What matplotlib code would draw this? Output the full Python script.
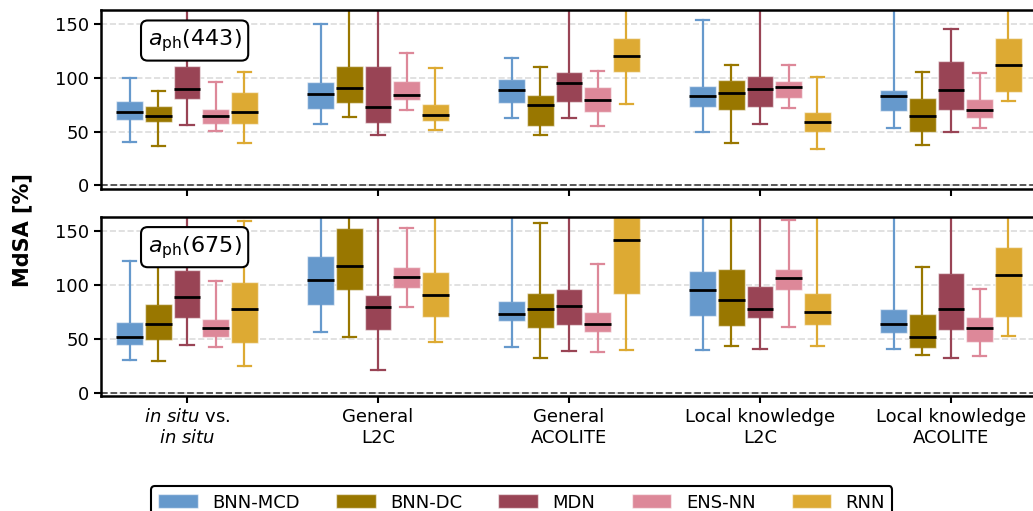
import numpy as np
import matplotlib.pyplot as plt
from matplotlib.patches import Patch

models = ["BNN-MCD", "BNN-DC", "MDN", "ENS-NN", "RNN"]
colors = ["#6699CC", "#997700", "#994455", "#DD8899", "#DDAA33"]
groups = [r"$\mathit{in\ situ}$ vs." + "\n" + r"$\mathit{in\ situ}$",
          "General\nL2C", "General\nACOLITE",
          "Local knowledge\nL2C", "Local knowledge\nACOLITE"]

# rows = models, columns = groups ; values in % (whiskers above the axis are clipped)
med_443 = [[68.7, 85.0, 89.0, 83.4, 83.4],
           [64.8, 90.5, 75.0, 86.2, 64.8],
           [89.9, 73.2, 95.5, 89.9, 89.0],
           [64.8, 84.0, 79.7, 91.7, 70.4],
           [68.5, 65.7, 120.5, 59.2, 112.2]]
q1_443 = [[60.7, 70.7, 76.3, 72.9, 69.5],
          [59.0, 76.9, 55.5, 69.8, 49.4],
          [80.0, 58.3, 77.5, 72.9, 70.4],
          [57.1, 79.4, 68.2, 81.2, 63.0],
          [57.1, 60.2, 105.1, 49.4, 87.1]]
q3_443 = [[78.5, 95.8, 98.6, 92.7, 88.7],
          [74.1, 111.2, 84.3, 98.0, 81.0],
          [111.2, 110.7, 105.7, 101.9, 115.9],
          [71.0, 97.3, 91.5, 97.0, 80.6],
          [86.8, 76.0, 136.7, 68.0, 137.6]]
lo_443 = [[40.6, 57.1, 63.0, 50.0, 53.7],
          [37.0, 63.6, 47.2, 39.7, 37.9],
          [56.2, 46.6, 63.0, 57.4, 49.7],
          [50.9, 70.4, 55.2, 72.0, 53.7],
          [39.5, 51.5, 76.0, 33.9, 78.7]]
hi_443 = [[99.5, 150.0, 118.7, 153.7, 180.0],
          [88.0, 180.0, 110.3, 112.2, 105.7],
          [180.0, 180.0, 180.0, 180.0, 145.6],
          [96.4, 123.3, 106.6, 112.2, 104.7],
          [105.1, 109.4, 180.0, 100.7, 180.0]]

med_675 = [[52.0, 104.0, 73.0, 94.7, 64.0],
           [63.7, 117.6, 78.0, 86.3, 52.0],
           [88.8, 79.8, 80.4, 78.0, 78.0],
           [60.3, 107.4, 64.0, 105.8, 60.3],
           [77.7, 90.7, 141.1, 75.2, 108.6]]
q1_675 = [[44.2, 80.8, 66.2, 70.9, 55.1],
          [48.9, 95.0, 60.0, 61.6, 41.8],
          [69.0, 57.9, 62.5, 69.0, 57.9],
          [52.0, 97.2, 56.0, 95.0, 46.7],
          [46.1, 69.9, 91.6, 63.1, 69.9]]
q3_675 = [[65.3, 126.2, 84.8, 112.6, 78.0],
          [82.0, 152.5, 92.8, 114.2, 73.3],
          [113.2, 90.7, 95.6, 98.4, 110.5],
          [68.4, 116.3, 74.6, 114.2, 70.5],
          [102.7, 111.4, 175.0, 92.5, 135.2]]
lo_675 = [[30.3, 56.3, 42.7, 39.9, 40.8],
          [29.4, 52.0, 32.5, 43.6, 35.3],
          [44.2, 21.0, 39.0, 40.8, 32.5],
          [42.7, 79.8, 38.0, 61.0, 34.3],
          [24.8, 47.3, 39.9, 43.6, 52.9]]
hi_675 = [[122.2, 180.0, 180.0, 180.0, 180.0],
          [125.0, 180.0, 156.9, 180.0, 116.0],
          [180.0, 180.0, 180.0, 180.0, 180.0],
          [103.0, 152.2, 118.8, 159.7, 96.5],
          [158.7, 180.0, 180.0, 180.0, 180.0]]

edge = (1, 1, 1, 0.55)


def draw_panel(ax, lo, q1, med, q3, hi, label):
    x = np.arange(len(groups))
    for i, c in enumerate(colors):
        stats = [dict(whislo=lo[i][g], q1=q1[i][g], med=med[i][g],
                      q3=q3[i][g], whishi=hi[i][g]) for g in x]
        ax.bxp(stats, positions=x + (i - 2) * 0.15, widths=0.14,
               showfliers=False, patch_artist=True, manage_ticks=False,
               boxprops=dict(facecolor=c, edgecolor=edge, linewidth=1),
               whiskerprops=dict(color=c, linewidth=1.6),
               capprops=dict(color=c, linewidth=1.6),
               medianprops=dict(color="k", linewidth=2))

    ax.axhline(0, color="0.3", ls="--", lw=1.3, zorder=1)
    ax.yaxis.grid(True, ls="--", color="#dcdcdc", lw=1.2)
    ax.set_axisbelow(True)
    ax.set_xlim(-0.45, 4.45)
    ax.set_ylim(-3, 163)
    ax.set_yticks([0, 50, 100, 150])
    ax.set_xticks(x)
    ax.tick_params(axis="both", width=1.5, length=5, labelsize=13)
    for s in ax.spines.values():
        s.set_linewidth(1.8)
        s.set_color("k")

    ax.text(0.10, 0.83, label, transform=ax.transAxes, fontsize=16,
            ha="center", va="center", zorder=10,
            bbox=dict(boxstyle="round,pad=0.3", fc="white", ec="k", lw=1.5))


fig = plt.figure(figsize=(10.33, 5.11), dpi=100)
ax1 = fig.add_axes([0.0978, 0.631, 0.906, 0.349])
ax2 = fig.add_axes([0.0978, 0.225, 0.906, 0.351])

draw_panel(ax1, lo_443, q1_443, med_443, q3_443, hi_443, r"$a_{\mathrm{ph}}(443)$")
draw_panel(ax2, lo_675, q1_675, med_675, q3_675, hi_675, r"$a_{\mathrm{ph}}(675)$")

ax1.tick_params(labelbottom=False)
ax2.set_xticklabels(groups)

fig.text(0.022, 0.55, "MdSA [%]", rotation=90, fontsize=15,
         fontweight="bold", ha="center", va="center")

handles = [Patch(facecolor=c, edgecolor=edge) for c in colors]
leg = fig.legend(handles, models, loc="upper center", bbox_to_anchor=(0.505, 0.066),
                 ncol=5, fontsize=13, handlelength=2.2, handleheight=0.85,
                 edgecolor="k", framealpha=1)
leg.get_frame().set_linewidth(1.5)

fig.savefig("out.png", dpi=100)
